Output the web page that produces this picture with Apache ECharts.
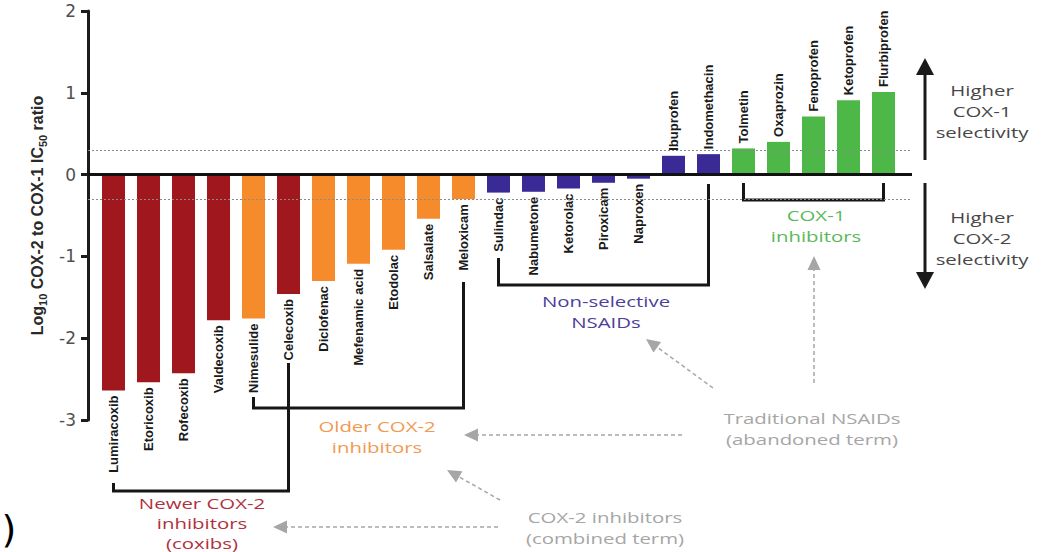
<!DOCTYPE html>
<html>
<head>
<meta charset="utf-8">
<script src="https://cdn.jsdelivr.net/npm/echarts@6/dist/echarts.min.js"></script>
<style>
  html, body { margin: 0; padding: 0; background: #ffffff; }
  #chart { width: 1045px; height: 552px; }
</style>
</head>
<body>
<div id="chart"></div>
<script>
// NSAIDs ordered by COX-2 / COX-1 IC50 ratio (log10)
const drugs = ['Lumiracoxib', 'Etoricoxib', 'Rofecoxib', 'Valdecoxib', 'Nimesulide', 'Celecoxib',
  'Diclofenac', 'Mefenamic acid', 'Etodolac', 'Salsalate', 'Meloxicam', 'Sulindac', 'Nabumetone',
  'Ketorolac', 'Piroxicam', 'Naproxen', 'Ibuprofen', 'Indomethacin', 'Tolmetin', 'Oxaprozin',
  'Fenoprofen', 'Ketoprofen', 'Flurbiprofen'];
const logRatio = [-2.64, -2.54, -2.43, -1.78, -1.76, -1.46, -1.30, -1.09, -0.92, -0.54, -0.30,
  -0.22, -0.21, -0.17, -0.10, -0.05, 0.23, 0.25, 0.32, 0.40, 0.71, 0.91, 1.01];
const drugClass = ['newer', 'newer', 'newer', 'newer', 'older', 'newer', 'older', 'older', 'older',
  'older', 'older', 'nonsel', 'nonsel', 'nonsel', 'nonsel', 'nonsel', 'nonsel', 'nonsel',
  'cox1', 'cox1', 'cox1', 'cox1', 'cox1'];
const yTicks = [-3, -2, -1, 0, 1, 2];
const selectivityBand = [0.3, -0.3];

const classColor = { newer: '#a0181e', older: '#f68b2b', nonsel: '#3a2a96', cox1: '#4db848' };

const chart = echarts.init(document.getElementById('chart'), null, { renderer: 'svg' });

const yMin = yTicks[0], yMax = yTicks[yTicks.length - 1];

chart.setOption({
  animation: false,
  grid: [
    { left: 96, right: 144, top: 11, bottom: 132 },
    { left: 88, right: 133, top: 11, bottom: 132 }
  ],
  xAxis: [
    { type: 'category', data: drugs, gridIndex: 0, show: false },
    { type: 'value', gridIndex: 1, min: 0, max: 1, show: false }
  ],
  yAxis: [
    {
      type: 'value', gridIndex: 0, min: yMin, max: yMax, interval: 1, offset: 8,
      splitLine: { show: false },
      axisLine: { show: true, lineStyle: { color: '#1c1c1c', width: 3 } },
      axisTick: { show: true, length: 7, lineStyle: { color: '#1c1c1c', width: 3 } },
      axisLabel: { color: '#505050', fontSize: 17, fontFamily: 'DejaVu Sans', margin: 12 },
      name: 'Log{sub|10} COX-2 to COX-1 IC{sub|50} ratio',
      nameLocation: 'middle', nameRotate: 90, nameGap: 40,
      nameTextStyle: {
        color: '#2a2a2a', fontSize: 16, fontWeight: 'bold', fontFamily: 'Liberation Sans',
        lineHeight: 21,
        rich: { sub: { fontSize: 11, fontWeight: 'bold', fontFamily: 'Liberation Sans', verticalAlign: 'bottom', lineHeight: 14 } }
      }
    },
    { type: 'value', gridIndex: 1, min: yMin, max: yMax, show: false }
  ],
  series: [
    {
      // dotted band at ±0.3, behind the bars
      type: 'line', xAxisIndex: 1, yAxisIndex: 1, data: [], z: 1, silent: true,
      markLine: {
        silent: true, symbol: 'none', label: { show: false },
        lineStyle: { color: '#8a8a8a', width: 1, type: [2, 2] },
        data: selectivityBand.map(v => ({ yAxis: v }))
      }
    },
    {
      type: 'bar', xAxisIndex: 0, yAxisIndex: 0, barWidth: 23, z: 2,
      data: logRatio.map((v, i) => ({
        value: v,
        itemStyle: { color: classColor[drugClass[i]] },
        label: { align: v < 0 ? 'right' : 'left' }
      })),
      label: {
        show: true, position: 'outside', rotate: 90, distance: 5,
        verticalAlign: 'middle', formatter: '{b}',
        color: '#1a1a1a', fontSize: 13, fontWeight: 'bold', fontFamily: 'Liberation Sans'
      }
    },
    {
      // zero baseline drawn over the bars
      type: 'line', xAxisIndex: 1, yAxisIndex: 1, data: [], z: 5, silent: true,
      markLine: {
        silent: true, symbol: 'none', label: { show: false },
        lineStyle: { color: '#111111', width: 3, type: 'solid' },
        data: [{ yAxis: 0 }]
      }
    }
  ]
});

// ---- annotations: class brackets, captions and arrows ----
const brackets = [
  { from: 'Lumiracoxib', to: 'Celecoxib', y: 491, fromTop: 483, toTop: 363 },
  { from: 'Nimesulide', to: 'Meloxicam', y: 408, fromTop: 397, toTop: 282 },
  { from: 'Sulindac', to: 'Indomethacin', y: 285, fromTop: 258, toTop: 184 },
  { from: 'Tolmetin', to: 'Flurbiprofen', y: 200, fromTop: 183, toTop: 183 }
];

const STRETCH = 1.36;
const capFont = '15px "Open Sans"';

function caption(text, x, y, color, lineHeight) {
  return {
    type: 'text', x: x, y: y, scaleX: STRETCH, silent: true,
    style: {
      text: text, fill: color, font: capFont, lineHeight: lineHeight || 21,
      align: 'center', verticalAlign: 'middle',
      textAlign: 'center', textVerticalAlign: 'middle'
    }
  };
}

function arrowHead(fx, fy, tx, ty, len, half, color) {
  const dx = tx - fx, dy = ty - fy;
  const d = Math.sqrt(dx * dx + dy * dy);
  const ux = dx / d, uy = dy / d;
  const bx = tx - ux * len, by = ty - uy * len;
  return {
    type: 'polygon', silent: true,
    shape: { points: [[tx, ty], [bx - uy * half, by + ux * half], [bx + uy * half, by - ux * half]] },
    style: { fill: color, stroke: null }
  };
}

function arrow(fx, fy, tx, ty, opts) {
  const dx = tx - fx, dy = ty - fy;
  const d = Math.sqrt(dx * dx + dy * dy);
  const ex = tx - dx / d * (opts.len - 2), ey = ty - dy / d * (opts.len - 2);
  return [
    {
      type: 'line', silent: true,
      shape: { x1: fx, y1: fy, x2: ex, y2: ey },
      style: { stroke: opts.color, lineWidth: opts.width, lineDash: opts.dash || null }
    },
    arrowHead(fx, fy, tx, ty, opts.len, opts.half, opts.color)
  ];
}

const grey = '#a6a6a6';
const greyArrow = { color: grey, width: 1.5, dash: [4, 3], len: 14, half: 6.5 };
const blackArrow = { color: '#1a1a1a', width: 3, len: 17, half: 9 };

function buildGraphic() {
  const els = [];
  brackets.forEach(b => {
    const x1 = chart.convertToPixel({ xAxisIndex: 0 }, b.from);
    const x2 = chart.convertToPixel({ xAxisIndex: 0 }, b.to);
    els.push({
      type: 'polyline', silent: true,
      shape: { points: [[x1, b.fromTop], [x1, b.y], [x2, b.y], [x2, b.toTop]] },
      style: { stroke: '#161616', lineWidth: 3, fill: null, lineJoin: 'miter' }
    });
  });

  els.push(caption('Newer COX-2\ninhibitors\n(coxibs)', 202, 523, '#b0323e', 20));
  els.push(caption('Older COX-2\ninhibitors', 377, 437, '#f19a52'));
  els.push(caption('Non-selective\nNSAIDs', 606, 312, '#4b3f9b'));
  els.push(caption('COX-1\ninhibitors', 816, 226, '#5bb85a'));
  els.push(caption('Higher\nCOX-1\nselectivity', 982, 111, '#474747'));
  els.push(caption('Higher\nCOX-2\nselectivity', 982, 238, '#474747'));
  els.push(caption('Traditional NSAIDs\n(abandoned term)', 812, 429, grey));
  els.push(caption('COX-2 inhibitors\n(combined term)', 605, 528, grey));

  // selectivity direction arrows
  els.push(...arrow(925, 160, 925, 58, blackArrow));
  els.push(...arrow(925, 183, 925, 289, blackArrow));

  // terminology pointers
  els.push(...arrow(713, 388, 646, 339, greyArrow));
  els.push(...arrow(814, 383, 814, 256, greyArrow));
  els.push(...arrow(682, 435, 464, 435, greyArrow));
  els.push(...arrow(500, 500, 447, 470, greyArrow));
  els.push(...arrow(498, 527, 273, 527, greyArrow));

  // panel bracket fragment at the lower left
  els.push({
    type: 'text', x: 9, y: 529, silent: true,
    style: { text: ')', fill: '#000000', font: '38px "DejaVu Sans"', align: 'center', verticalAlign: 'middle', textAlign: 'center', textVerticalAlign: 'middle' }
  });
  return els;
}

chart.setOption({ graphic: buildGraphic() });
</script>
</body>
</html>
